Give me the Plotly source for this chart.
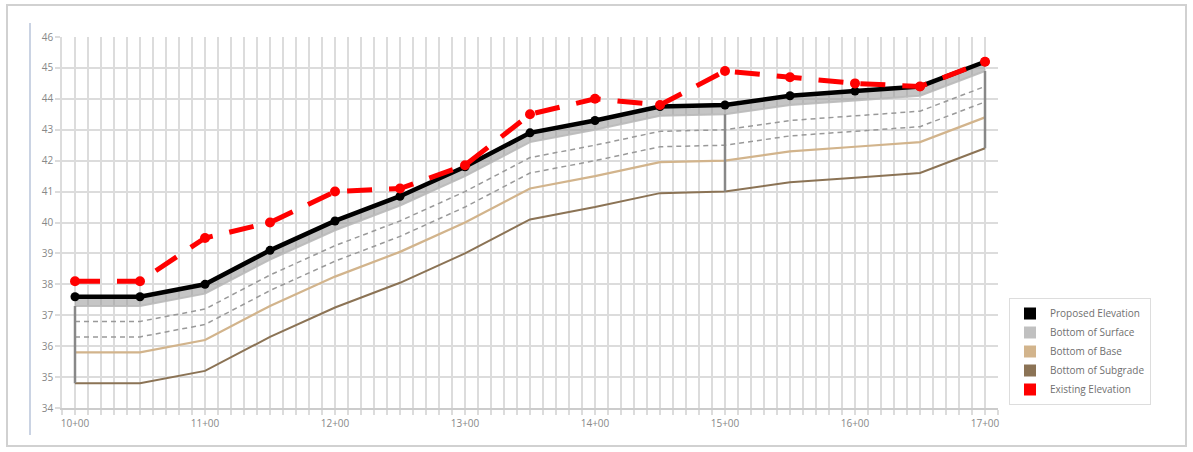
import plotly.graph_objects as go

# ---- data ----
stations = [1000, 1050, 1100, 1150, 1200, 1250, 1300, 1350, 1400, 1450, 1500, 1550, 1600, 1650, 1700]
proposed = [37.6, 37.6, 38.0, 39.1, 40.05, 40.85, 41.8, 42.9, 43.3, 43.75, 43.8, 44.1, 44.25, 44.4, 45.2]
bottom_surface = [37.3, 37.3, 37.7, 38.8, 39.75, 40.55, 41.5, 42.6, 43.0, 43.45, 43.5, 43.8, 43.95, 44.1, 44.9]
layer_a = [36.8, 36.8, 37.2, 38.3, 39.25, 40.05, 41.0, 42.1, 42.5, 42.95, 43.0, 43.3, 43.45, 43.6, 44.4]
layer_b = [36.3, 36.3, 36.7, 37.8, 38.75, 39.55, 40.5, 41.6, 42.0, 42.45, 42.5, 42.8, 42.95, 43.1, 43.9]
bottom_base = [35.8, 35.8, 36.2, 37.3, 38.25, 39.05, 40.0, 41.1, 41.5, 41.95, 42.0, 42.3, 42.45, 42.6, 43.4]
bottom_subgrade = [34.8, 34.8, 35.2, 36.3, 37.25, 38.05, 39.0, 40.1, 40.5, 40.95, 41.0, 41.3, 41.45, 41.6, 42.4]
existing = [38.1, 38.1, 39.5, 40.0, 41.0, 41.1, 41.85, 43.5, 44.0, 43.8, 44.9, 44.7, 44.5, 44.4, 45.2]
section_idx = [0, 10, 14]  # stations where the section outline is drawn

tick_vals = [1000, 1100, 1200, 1300, 1400, 1500, 1600, 1700]
tick_text = ["10+00", "11+00", "12+00", "13+00", "14+00", "15+00", "16+00", "17+00"]

legend_names = ["Proposed Elevation", "Bottom of Surface", "Bottom of Base", "Bottom of Subgrade", "Existing Elevation"]
legend_colors = ["#000000", "#c0c0c0", "#d2b48c", "#8b7355", "#ff0000"]

fig = go.Figure()

# surface band
fig.add_trace(go.Scatter(x=stations, y=bottom_surface, mode="lines",
                         line=dict(color="rgba(185,185,185,0.9)", width=2), showlegend=False, hoverinfo="skip"))
fig.add_trace(go.Scatter(x=stations, y=proposed, mode="lines", line=dict(width=0),
                         fill="tonexty", fillcolor="rgba(150,150,150,0.55)", showlegend=False, hoverinfo="skip"))

# intermediate dashed layers
for arr in (layer_a, layer_b):
    fig.add_trace(go.Scatter(x=stations, y=arr, mode="lines",
                             line=dict(color="#999999", width=1.5, dash="5px,4px"), showlegend=False))

fig.add_trace(go.Scatter(x=stations, y=bottom_base, mode="lines",
                         line=dict(color="#d2b48c", width=2.2), showlegend=False))
fig.add_trace(go.Scatter(x=stations, y=bottom_subgrade, mode="lines",
                         line=dict(color="#8b7355", width=2), showlegend=False))

# section outlines
for i in section_idx:
    fig.add_trace(go.Scatter(x=[stations[i], stations[i]], y=[bottom_surface[i], bottom_subgrade[i]],
                             mode="lines", line=dict(color="#888888", width=2.5), showlegend=False))

fig.add_trace(go.Scatter(x=stations, y=proposed, mode="lines+markers",
                         line=dict(color="#000000", width=4.5),
                         marker=dict(color="#000000", size=9), showlegend=False))

fig.add_trace(go.Scatter(x=stations, y=existing, mode="lines+markers",
                         line=dict(color="#ff0000", width=5, dash="25px,17px"),
                         marker=dict(color="#ff0000", size=10), showlegend=False))

# legend entries (square swatches)
for name, col in zip(legend_names, legend_colors):
    fig.add_trace(go.Scatter(x=[None], y=[None], mode="markers", name=name,
                             marker=dict(symbol="square", size=12, color=col)))

L, R, T, B = 62, 998, 37, 408
W, H = 1193, 452
pw, ph = R - L, B - T

def px(xp):
    return (xp - L) / pw

def py(yp):
    return (B - yp) / ph

shapes = [
    dict(type="rect", xref="paper", yref="paper", x0=px(7), x1=px(1186), y0=py(446), y1=py(5),
         line=dict(color="rgba(0,0,0,0.18)", width=2), layer="below"),
    dict(type="line", xref="paper", yref="paper", x0=px(30), x1=px(30), y0=py(435), y1=py(23),
         line=dict(color="#cad3e3", width=2), layer="below"),
]

grid = "#dcdcdc"
fig.update_layout(
    width=W, height=H,
    margin=dict(l=L, r=W - R, t=T, b=H - B, pad=0),
    paper_bgcolor="white", plot_bgcolor="white",
    font=dict(family="Open Sans, sans-serif", size=10, color="#777777"),
    shapes=shapes,
    showlegend=True,
    legend=dict(x=px(1009), y=py(298), xanchor="left", yanchor="top", traceorder="normal",
                bgcolor="white", bordercolor="#dddddd", borderwidth=1,
                font=dict(size=10, color="#6f6f6f"), tracegroupgap=0),
    xaxis=dict(range=[990, 1710], tickmode="array", tickvals=tick_vals, ticktext=tick_text,
               showgrid=True, gridcolor=grid, gridwidth=1.5,
               ticks="outside", ticklen=5, tickcolor=grid, tickwidth=1.5,
               showline=True, linecolor="#cccccc", linewidth=1.5, zeroline=False,
               tickfont=dict(size=10, color="#888888"),
               minor=dict(tick0=990, dtick=10, showgrid=True, gridcolor=grid, gridwidth=1.5,
                          ticks="outside", ticklen=5, tickcolor=grid, tickwidth=1.5)),
    yaxis=dict(range=[34, 46], dtick=1, showgrid=True, gridcolor=grid, gridwidth=1.5,
               ticks="outside", ticklen=5, tickcolor=grid, tickwidth=1.5,
               showline=True, linecolor=grid, linewidth=1.5, zeroline=False,
               tickfont=dict(size=10, color="#888888")),
)

fig.write_html("out.html", config={"displayModeBar": False},
               post_script="document.body.style.margin='0';document.body.style.overflow='hidden';")
